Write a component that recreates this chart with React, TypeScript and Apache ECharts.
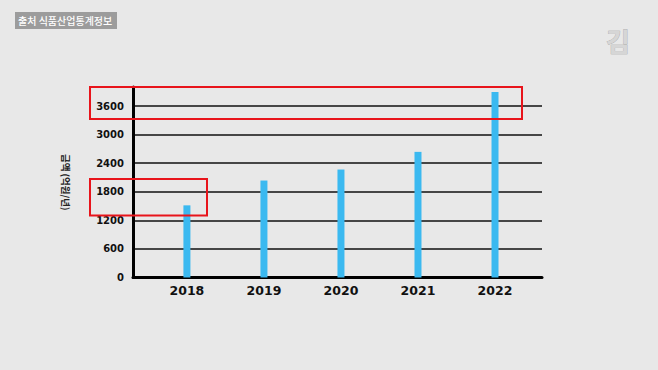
import React, { useEffect, useRef } from "react";
import * as echarts from "echarts";

// Yearly values drawn as thin bars
const years: number[] = [2018, 2019, 2020, 2021, 2022];
const amounts: number[] = [1515, 2036, 2267, 2638, 3895];

// Y axis scale
const yMin = 0;
const yMax = 4000;
const yStep = 600;

const sourceText = "출처 식품산업통계정보";
const yAxisTitle = "금액 (억원/년)";

const W = 658;
const H = 370;

export default function App() {
  const ref = useRef<HTMLDivElement>(null);

  useEffect(() => {
    document.body.style.margin = "0";
    document.body.style.background = "#e8e8e8";
    if (!ref.current) return;
    const chart = echarts.init(ref.current, undefined, { renderer: "svg", width: W, height: H });

    const option: echarts.EChartsOption = {
      animation: false,
      backgroundColor: "#e8e8e8",
      grid: { left: 133, right: 116, top: 87, bottom: 92.5, containLabel: false },
      xAxis: {
        type: "value",
        min: 2017.3,
        max: 2022.61,
        axisLine: { show: true, onZero: false, lineStyle: { color: "#000", width: 3 } },
        axisTick: { show: false },
        splitLine: { show: false },
        axisLabel: {
          customValues: years,
          formatter: (v: number) => String(v),
          color: "#111",
          fontFamily: "DejaVu Sans",
          fontWeight: "bold",
          fontSize: 12.5,
          margin: 6,
        },
      },
      yAxis: {
        type: "value",
        min: yMin,
        max: yMax,
        interval: yStep,
        name: yAxisTitle,
        nameLocation: "middle",
        nameRotate: -90,
        nameGap: 62,
        nameTextStyle: {
          color: "#222",
          fontFamily: "Noto Sans CJK KR",
          fontWeight: "bold",
          fontSize: 9.5,
        },
        axisLine: { show: true, onZero: false, lineStyle: { color: "#000", width: 3 } },
        axisTick: { show: false },
        splitLine: {
          show: true,
          showMinLine: false,
          showMaxLine: false,
          lineStyle: { color: "#111", width: 1.5 },
        },
        axisLabel: {
          showMaxLabel: false,
          formatter: (v: number) => String(v),
          color: "#111",
          fontFamily: "DejaVu Sans",
          fontWeight: "bold",
          fontSize: 10,
          margin: 9,
        },
      },
      series: [
        {
          type: "bar",
          data: years.map((y, i) => [y, amounts[i]]),
          barWidth: 7,
          itemStyle: { color: "#3bb9f0" },
          z: 3,
        },
      ],
      graphic: [
        {
          type: "rect",
          shape: { x: 15, y: 12, width: 102, height: 17 },
          style: { fill: "#9c9c9c" },
        },
        {
          type: "text",
          x: 18,
          y: 20.5,
          style: {
            text: sourceText,
            fill: "#ffffff",
            font: "500 10px 'Noto Sans CJK KR'",
            verticalAlign: "middle",
          },
        },
        {
          type: "text",
          x: 618,
          y: 40,
          style: {
            text: "김",
            fill: "#d6d6d6",
            stroke: "#a0a0a0",
            lineWidth: 0.6,
            font: "bold 26px 'Noto Sans CJK KR'",
            align: "center",
            verticalAlign: "middle",
          },
        },
        {
          type: "rect",
          shape: { x: 90, y: 87, width: 432, height: 32 },
          style: { fill: "none", stroke: "#e8141b", lineWidth: 2 },
          z: 10,
        },
        {
          type: "rect",
          shape: { x: 90, y: 179, width: 117, height: 36.5 },
          style: { fill: "none", stroke: "#e8141b", lineWidth: 2 },
          z: 10,
        },
      ],
    };

    chart.setOption(option);
    return () => chart.dispose();
  }, []);

  return (
    <div
      ref={ref}
      style={{ position: "fixed", left: 0, top: 0, width: W, height: H }}
    />
  );
}
